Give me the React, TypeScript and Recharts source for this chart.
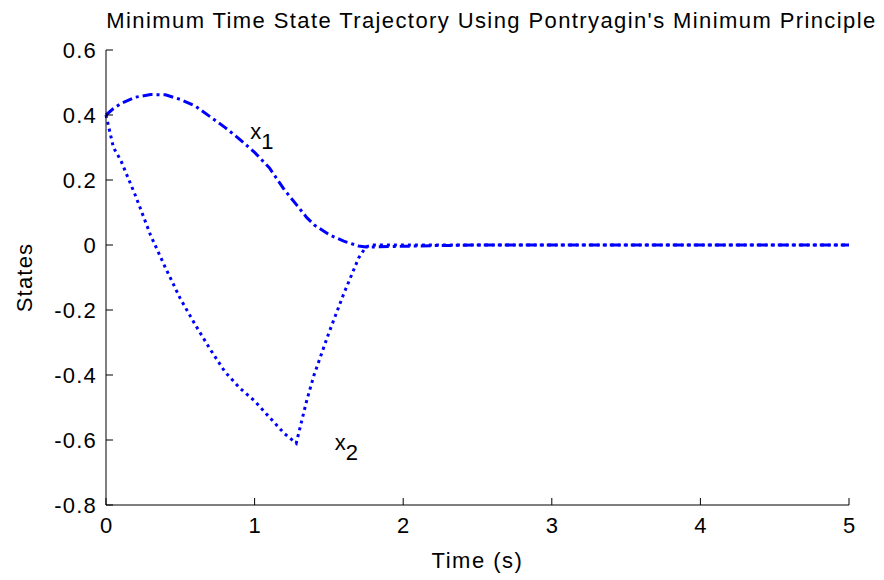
import { LineChart, Line, XAxis, YAxis, ReferenceDot } from 'recharts';

// time samples (s)
const time = [0, 0.05, 0.1, 0.2, 0.3, 0.4, 0.5, 0.6, 0.7, 0.8, 0.9, 1.0, 1.1, 1.2, 1.28, 1.35, 1.4, 1.5, 1.6, 1.7, 1.75, 1.8, 2.0, 2.2, 2.5, 3, 3.5, 4, 4.5, 5];
// x1: dash-dot curve
const x1 = [0.4, 0.42, 0.435, 0.455, 0.463, 0.462, 0.448, 0.428, 0.395, 0.362, 0.325, 0.285, 0.237, 0.17, 0.125, 0.085, 0.062, 0.032, 0.012, -0.003, -0.006, -0.006, -0.004, -0.002, 0, 0, 0, 0, 0, 0];
// x2: dotted curve
const x2 = [0.4, 0.3, 0.26, 0.15, 0.03, -0.07, -0.165, -0.245, -0.32, -0.39, -0.44, -0.48, -0.53, -0.58, -0.61, -0.48, -0.4, -0.27, -0.15, -0.04, -0.005, 0, 0, 0, 0, 0, 0, 0, 0, 0];

const xTicks = [0, 1, 2, 3, 4, 5];
const yTicks = [-0.8, -0.6, -0.4, -0.2, 0, 0.2, 0.4, 0.6];

const data = time.map((t, i) => ({ t, x1: x1[i], x2: x2[i] }));

const FONT = '"Liberation Sans", Arial, sans-serif';
const FS = 22;

const fmtY = (v: number) => (v === 0 ? '0' : v.toFixed(1));

function YTick(props: any) {
    const { x, y, payload } = props;
    return (
        <g>
            <line x1={x} y1={y} x2={x + 7} y2={y} stroke="#000" />
            <text x={x - 9} y={y} dy={8} textAnchor="end" fontSize={FS} letterSpacing={1.2} fontFamily={FONT} fill="#000">
                {fmtY(payload.value)}
            </text>
        </g>
    );
}

function XTick(props: any) {
    const { x, y, payload } = props;
    return (
        <g>
            <line x1={x} y1={y} x2={x} y2={y - 7} stroke="#000" />
            <text x={x} y={y + 28} textAnchor="middle" fontSize={FS} fontFamily={FONT} fill="#000">
                {payload.value}
            </text>
        </g>
    );
}

function subLabel(name: string, sub: string) {
    return (p: any) => (
        <text x={p.cx} y={p.cy} fontSize={FS} fontFamily={FONT} fill="#000">
            {name}
            <tspan dy={10} fontSize={FS}>{sub}</tspan>
        </text>
    );
}

export default function App() {
    return (
        <div style={{ position: 'absolute', left: 0, top: 0, width: 884, height: 580, background: '#fff' }}>
            <div
                style={{
                    position: 'absolute',
                    left: 0,
                    width: 983,
                    top: 8,
                    textAlign: 'center',
                    fontFamily: FONT,
                    fontSize: FS,
                    letterSpacing: 1.4,
                    color: '#000',
                    whiteSpace: 'nowrap',
                }}
            >
                Minimum Time State Trajectory Using Pontryagin's Minimum Principle
            </div>
            <LineChart width={884} height={580} data={data} margin={{ top: 50, right: 35, bottom: 0, left: 0 }}>
                <XAxis
                    dataKey="t"
                    type="number"
                    domain={[0, 5]}
                    ticks={xTicks}
                    height={75}
                    tickSize={0}
                    tickMargin={0}
                    tickLine={false}
                    tick={<XTick />}
                    axisLine={{ stroke: '#000' }}
                    label={{ value: 'Time (s)', position: 'insideBottom', offset: 12, fontSize: FS, letterSpacing: 1.5, fontFamily: FONT, fill: '#000' }}
                />
                <YAxis
                    type="number"
                    domain={[-0.8, 0.6]}
                    ticks={yTicks}
                    width={106}
                    tickSize={0}
                    tickMargin={0}
                    tickLine={false}
                    tick={<YTick />}
                    axisLine={{ stroke: '#000' }}
                    label={{ value: 'States', angle: -90, position: 'insideLeft', offset: 24, fontSize: FS, letterSpacing: 1.2, fontFamily: FONT, fill: '#000', style: { textAnchor: 'middle' } }}
                />
                <Line
                    dataKey="x1"
                    type="linear"
                    stroke="#0000ff"
                    strokeWidth={3}
                    strokeDasharray="10 4 3 4"
                    dot={false}
                    isAnimationActive={false}
                />
                <Line
                    dataKey="x2"
                    type="linear"
                    stroke="#0000ff"
                    strokeWidth={3}
                    strokeDasharray="3 4"
                    dot={false}
                    isAnimationActive={false}
                />
                <ReferenceDot x={0.97} y={0.325} r={0} shape={subLabel('x', '1')} />
                <ReferenceDot x={1.54} y={-0.63} r={0} shape={subLabel('x', '2')} />
            </LineChart>
        </div>
    );
}
